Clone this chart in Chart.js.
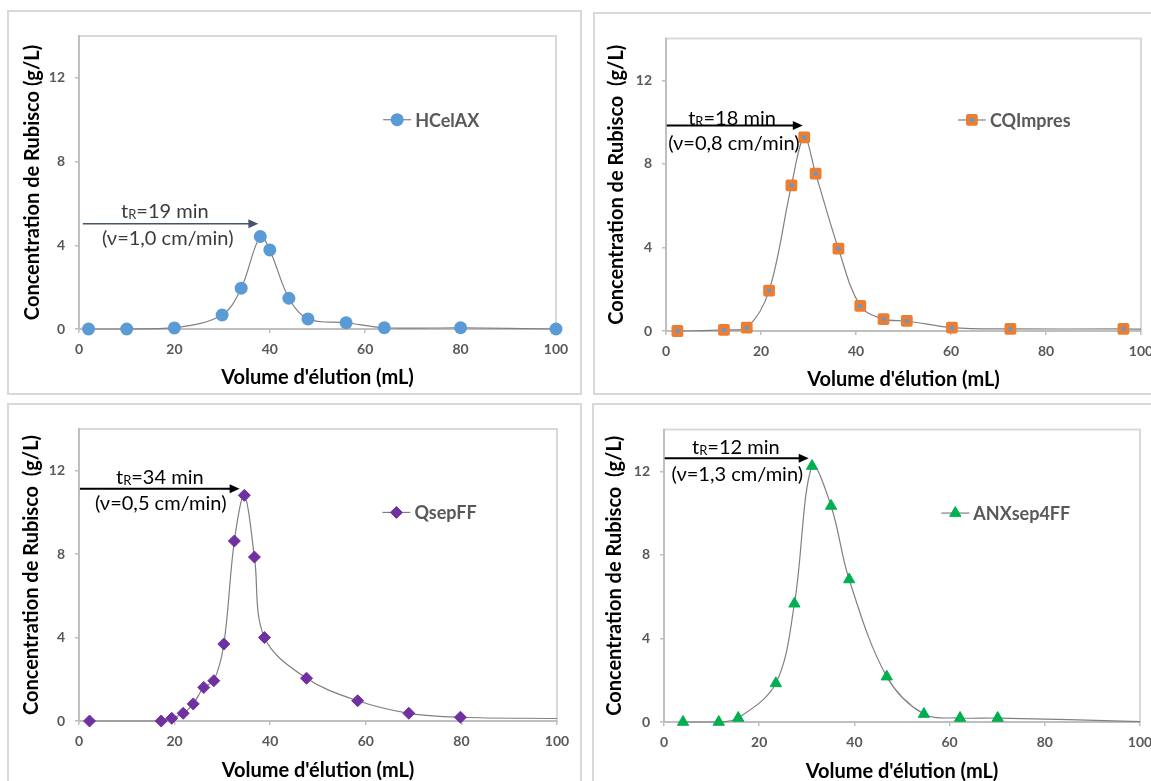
<!DOCTYPE html>
<html>
<head>
<meta charset="utf-8">
<script src="https://cdn.jsdelivr.net/npm/chart.js@4.4.1/dist/chart.umd.min.js"></script>
<style>
  body { margin: 0; background: #fff; width: 1151px; height: 781px; overflow: hidden; position: relative; }
  .frame { position: absolute; border: 2px solid #d9d9d9; box-sizing: border-box; }
  canvas { position: absolute; }
</style>
</head>
<body>
<script>
// data
const seriesNames = ['HCelAX', 'CQImpres', 'QsepFF', 'ANXsep4FF'];
const retentionMin = [19, 18, 34, 12];
const speeds = ['1,0', '0,8', '0,5', '1,3'];

const hcelaxVol = [2, 10, 20, 30, 34, 38, 40, 44, 48, 56, 64, 80, 100];
const hcelaxConc = [0, 0, 0.05, 0.67, 1.95, 4.42, 3.78, 1.47, 0.48, 0.3, 0.06, 0.06, 0];

const cqVol = [2.4, 12.2, 17, 21.7, 26.4, 29.1, 31.5, 36.3, 40.9, 45.8, 50.7, 60.2, 72.5, 96.3, 100];
const cqConc = [0, 0.05, 0.16, 1.93, 6.97, 9.27, 7.53, 3.94, 1.2, 0.57, 0.48, 0.16, 0.1, 0.1, 0.09];

const qsepVol = [2.2, 17.2, 19.4, 21.8, 23.9, 26.1, 28.2, 30.3, 32.5, 34.6, 36.7, 38.8, 47.6, 58.3, 69, 79.8, 100];
const qsepConc = [0, 0, 0.13, 0.37, 0.82, 1.61, 1.93, 3.69, 8.63, 10.82, 7.86, 4.0, 2.05, 0.97, 0.37, 0.18, 0.12];

const anxVol = [4, 11.5, 15.6, 23.5, 27.4, 31.1, 35.1, 38.9, 46.8, 54.6, 62.2, 70.1, 100];
const anxConc = [0, 0, 0.19, 1.85, 5.66, 12.25, 10.34, 6.82, 2.17, 0.38, 0.19, 0.19, 0.02];

const xTicks = [0, 20, 40, 60, 80, 100];
const yTicks = [0, 4, 8, 12];

const FONT = "Lato, 'DejaVu Sans', sans-serif";
const TITLE_SIZE = 20;

// layout of each panel on the page
const panels = [
  { vol: hcelaxVol, conc: hcelaxConc, hideLast: false,
    box: [7, 10, 575, 385], frame: [575, 385], area: [79, 36, 556, 329], ytc: 33, xtc: 378,
    yTitle: 'Concentration de Rubisco (g/L)',
    marker: { pointStyle: 'circle', radius: 6.5, bg: '#5b9bd5', border: '#5b9bd5', bw: 0 },
    arrow: { y: 5.03, x0: 0.8, x1: 37.6, color: '#44546a', w: 1.5 },
    txt: { c1: 18, d1: -13, c2: 18.6, d2: 15, color: '#3b3b3b' },
    legend: [66.7, 10.0] },
  { vol: cqVol, conc: cqConc, hideLast: true,
    box: [593, 12, 558, 383], frame: [600, 383], area: [666, 38.5, 1141, 331], ytc: 617, xtc: 380,
    yTitle: 'Concentration de Rubisco  (g/L)',
    marker: { pointStyle: 'rect', radius: 5.5, bg: '#5b9bd5', border: '#ed7d31', bw: 4 },
    arrow: { y: 9.83, x0: 0.15, x1: 28.8, color: '#000', w: 2 },
    txt: { c1: 13.9, d1: -8, c2: 14.3, d2: 18, color: '#000' },
    legend: [64.4, 10.1] },
  { vol: qsepVol, conc: qsepConc, hideLast: true,
    box: [7, 403, 575, 395], frame: [575, 400], area: [79, 429, 557, 721], ytc: 31.5, xtc: 771,
    yTitle: 'Concentration de Rubisco  (g/L)',
    marker: { pointStyle: 'rectRot', radius: 6, bg: '#7030a0', border: '#7030a0', bw: 1 },
    arrow: { y: 11.14, x0: 0.2, x1: 33.6, color: '#000', w: 2 },
    txt: { c1: 16.9, d1: -12, c2: 17.1, d2: 15, color: '#000' },
    legend: [66.4, 10.0] },
  { vol: anxVol, conc: anxConc, hideLast: true,
    box: [592, 403, 559, 395], frame: [600, 400], area: [664, 429.5, 1140, 722], ytc: 615, xtc: 772,
    yTitle: 'Concentration de Rubisco  (g/L)',
    marker: { pointStyle: 'triangle', radius: 6.5, bg: '#00b050', border: '#00b050', bw: 1 },
    arrow: { y: 12.62, x0: 0.15, x1: 30.4, color: '#000', w: 2 },
    txt: { c1: 15.1, d1: -11, c2: 15.4, d2: 16, color: '#000' },
    legend: [61.2, 10.0] }
];

function markerAt(ctx, m, x, y) {
  ctx.fillStyle = m.bg;
  ctx.strokeStyle = m.border;
  ctx.lineWidth = m.bw;
  ctx.lineJoin = 'round';
  if (Chart.helpers && Chart.helpers.drawPoint) {
    Chart.helpers.drawPoint(ctx, { pointStyle: m.pointStyle, radius: m.radius, borderWidth: m.bw, rotation: 0 }, x, y);
  } else {
    ctx.beginPath(); ctx.arc(x, y, m.radius, 0, Math.PI * 2); ctx.fill();
  }
}

function drawRT(ctx, cx, cy, tr, color) {
  const big = '20px ' + FONT, small = '13px ' + FONT;
  ctx.font = big;
  const w1 = ctx.measureText('t').width;
  const rest = '=' + tr + ' min';
  const w3 = ctx.measureText(rest).width;
  ctx.font = small;
  const w2 = ctx.measureText('R').width;
  let x = cx - (w1 + w2 + w3) / 2;
  const base = cy + 7;
  ctx.fillStyle = color;
  ctx.textAlign = 'left';
  ctx.textBaseline = 'alphabetic';
  ctx.font = big; ctx.fillText('t', x, base); x += w1;
  ctx.font = small; ctx.fillText('R', x, base + 1); x += w2;
  ctx.font = big; ctx.fillText(rest, x, base);
}

panels.forEach(function(p, i) {
  const frame = document.createElement('div');
  frame.className = 'frame';
  frame.style.left = p.box[0] + 'px';
  frame.style.top = p.box[1] + 'px';
  frame.style.width = p.frame[0] + 'px';
  frame.style.height = p.frame[1] + 'px';
  document.body.appendChild(frame);

  const cv = document.createElement('canvas');
  cv.width = p.box[2]; cv.height = p.box[3];
  cv.style.left = p.box[0] + 'px';
  cv.style.top = p.box[1] + 'px';
  cv.style.width = p.box[2] + 'px';
  cv.style.height = p.box[3] + 'px';
  document.body.appendChild(cv);

  const yAxisW = p.area[0] - p.box[0];
  const xAxisH = p.box[1] + p.box[3] - p.area[3];
  const padTop = p.area[1] - p.box[1];
  const padRight = p.box[0] + p.box[2] - p.area[2];
  const lh = TITLE_SIZE * 1.2;
  const yTitlePad = p.ytc - p.box[0] - lh / 2;
  const xTitlePad = p.box[1] + p.box[3] - p.xtc - lh / 2;
  const last = p.vol.length - 1;

  const decor = {
    id: 'decor' + i,
    beforeDraw(chart) {
      const a = chart.chartArea, ctx = chart.ctx;
      ctx.save();
      ctx.strokeStyle = '#d9d9d9';
      ctx.lineWidth = 2;
      ctx.strokeRect(a.left, a.top, a.right - a.left, a.bottom - a.top);
      ctx.restore();
    },
    beforeDatasetsDraw(chart) {
      chart.ctx.lineJoin = 'round';
    },
    afterDatasetsDraw(chart) {
      const ctx = chart.ctx, xs = chart.scales.x, ys = chart.scales.y;
      ctx.save();
      // retention arrow
      const ay = ys.getPixelForValue(p.arrow.y);
      const ax0 = xs.getPixelForValue(p.arrow.x0), ax1 = xs.getPixelForValue(p.arrow.x1);
      ctx.strokeStyle = p.arrow.color; ctx.fillStyle = p.arrow.color;
      ctx.lineWidth = p.arrow.w;
      ctx.beginPath(); ctx.moveTo(ax0, ay); ctx.lineTo(ax1 - 8, ay); ctx.stroke();
      ctx.beginPath(); ctx.moveTo(ax1, ay); ctx.lineTo(ax1 - 10, ay - 4.5); ctx.lineTo(ax1 - 10, ay + 4.5); ctx.closePath(); ctx.fill();
      // labels
      drawRT(ctx, xs.getPixelForValue(p.txt.c1), ay + p.txt.d1, retentionMin[i], p.txt.color);
      ctx.font = '20px ' + FONT;
      ctx.textAlign = 'center'; ctx.textBaseline = 'middle';
      ctx.fillStyle = p.txt.color;
      ctx.fillText('(\u03bd=' + speeds[i] + ' cm/min)', xs.getPixelForValue(p.txt.c2), ay + p.txt.d2);
      // legend
      const lx = xs.getPixelForValue(p.legend[0]), ly = ys.getPixelForValue(p.legend[1]);
      ctx.strokeStyle = '#808080'; ctx.lineWidth = 1.2;
      ctx.beginPath(); ctx.moveTo(lx - 14, ly); ctx.lineTo(lx + 14, ly); ctx.stroke();
      markerAt(ctx, p.marker, lx, ly);
      ctx.font = 'bold 18px ' + FONT;
      ctx.fillStyle = '#595959';
      ctx.textAlign = 'left'; ctx.textBaseline = 'middle';
      ctx.fillText(seriesNames[i], lx + 18, ly + 1);
      ctx.restore();
    }
  };

  const tickFont = { family: FONT, size: 14, weight: 'bold' };
  const titleFont = { family: FONT, size: TITLE_SIZE, weight: 'bold' };

  new Chart(cv, {
    type: 'line',
    data: {
      datasets: [{
        label: seriesNames[i],
        data: p.vol.map(function(v, k) { return { x: v, y: p.conc[k] }; }),
        borderColor: '#808080',
        borderWidth: 1.2,
        tension: 0.35,
        fill: false,
        clip: false,
        pointStyle: p.marker.pointStyle,
        pointRadius: function(c) { return (p.hideLast && c.dataIndex === last) ? 0 : p.marker.radius; },
        pointBackgroundColor: p.marker.bg,
        pointBorderColor: p.marker.border,
        pointBorderWidth: p.marker.bw
      }]
    },
    options: {
      responsive: false,
      animation: false,
      events: [],
      layout: { padding: { left: 0, top: padTop, right: padRight, bottom: 0 } },
      plugins: { legend: { display: false }, tooltip: { enabled: false } },
      scales: {
        x: {
          type: 'linear', min: 0, max: 100,
          afterBuildTicks: function(s) { s.ticks = xTicks.map(function(v) { return { value: v }; }); },
          ticks: { color: '#595959', font: tickFont, padding: 8, maxRotation: 0, autoSkip: false },
          grid: { drawOnChartArea: false, tickLength: 4, color: '#bfbfbf', lineWidth: 1.5 },
          border: { color: '#bfbfbf', width: 2 },
          title: { display: true, text: "Volume d'élution (mL)", color: '#000', font: titleFont, padding: { top: 0, bottom: xTitlePad } },
          afterFit: function(s) { s.height = xAxisH; s.paddingLeft = 0; s.paddingRight = 0; }
        },
        y: {
          type: 'linear', min: 0, max: 14,
          afterBuildTicks: function(s) { s.ticks = yTicks.map(function(v) { return { value: v }; }); },
          ticks: { color: '#595959', font: tickFont, padding: 10 },
          grid: { drawOnChartArea: false, tickLength: 4, color: '#bfbfbf', lineWidth: 1.5 },
          border: { color: '#bfbfbf', width: 2 },
          title: { display: true, text: p.yTitle, color: '#000', font: titleFont, padding: { top: yTitlePad, bottom: 0 } },
          afterFit: function(s) { s.width = yAxisW; s.paddingTop = 0; s.paddingBottom = 0; }
        }
      }
    },
    plugins: [decor]
  });
});
</script>
</body>
</html>
